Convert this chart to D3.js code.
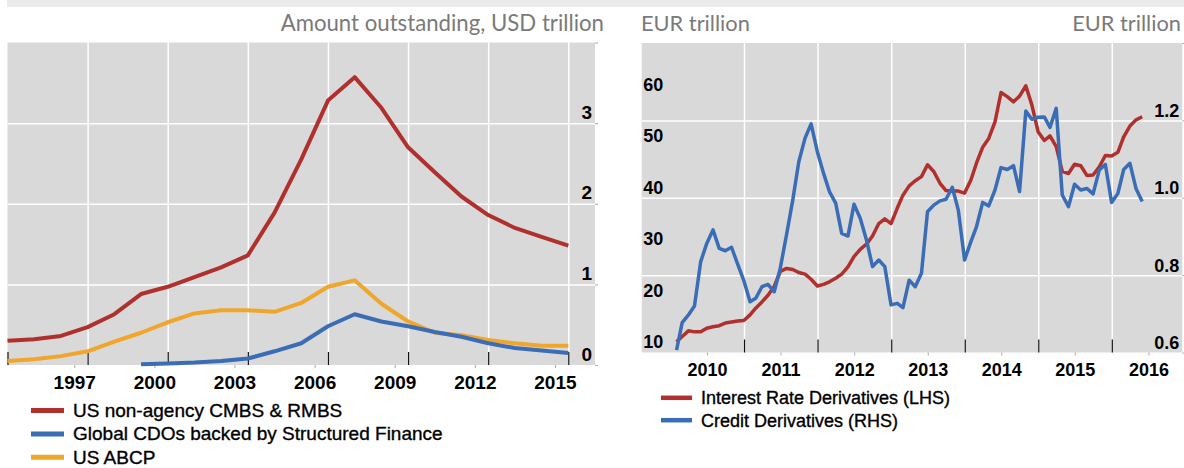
<!DOCTYPE html>
<html>
<head>
<meta charset="utf-8">
<script src="https://cdn.jsdelivr.net/npm/d3@7"></script>
<style>
  body { margin: 0; background: #fff; }
  svg { display: block; }
</style>
</head>
<body>
<svg id="chart" width="1184" height="468"></svg>
<script>
// ---- left panel: structured finance amounts outstanding (USD trillion) ----
const usYears = [1994, 1995, 1996, 1997, 1998, 1999, 2000, 2001, 2002, 2003, 2004,
  2005, 2006, 2007, 2008, 2009, 2010, 2011, 2012, 2013, 2014, 2015];
const cmbsRmbs = [0.30, 0.32, 0.36, 0.47, 0.63, 0.88, 0.97, 1.09, 1.21, 1.36, 1.89,
  2.55, 3.28, 3.57, 3.19, 2.70, 2.39, 2.09, 1.86, 1.70, 1.59, 1.48];
const usAbcp = [0.05, 0.07, 0.11, 0.17, 0.29, 0.40, 0.53, 0.64, 0.68, 0.68, 0.66,
  0.77, 0.97, 1.05, 0.76, 0.54, 0.40, 0.37, 0.31, 0.27, 0.24, 0.24];
const cdoYears = [1999, 2000, 2001, 2002, 2003, 2004, 2005, 2006, 2007, 2008, 2009,
  2010, 2011, 2012, 2013, 2014, 2015];
const globalCdos = [0.01, 0.02, 0.03, 0.05, 0.08, 0.17, 0.27, 0.48, 0.63, 0.54, 0.48,
  0.41, 0.35, 0.27, 0.21, 0.18, 0.15];
const leftYearTicks = [1997, 2000, 2003, 2006, 2009, 2012, 2015];
const leftValueTicks = [0, 1, 2, 3];

// ---- right panel: derivatives (EUR trillion), month-end observations ----
const derivMonths = [
  '2010-01', '2010-02', '2010-03', '2010-04', '2010-05', '2010-06', '2010-07', '2010-08', '2010-09', '2010-10', '2010-11', '2010-12',
  '2011-01', '2011-02', '2011-03', '2011-04', '2011-05', '2011-06', '2011-07', '2011-08', '2011-09', '2011-10', '2011-11', '2011-12',
  '2012-01', '2012-02', '2012-03', '2012-04', '2012-05', '2012-06', '2012-07', '2012-08', '2012-09', '2012-10', '2012-11', '2012-12',
  '2013-01', '2013-02', '2013-03', '2013-04', '2013-05', '2013-06', '2013-07', '2013-08', '2013-09', '2013-10', '2013-11', '2013-12',
  '2014-01', '2014-02', '2014-03', '2014-04', '2014-05', '2014-06', '2014-07', '2014-08', '2014-09', '2014-10', '2014-11', '2014-12',
  '2015-01', '2015-02', '2015-03', '2015-04', '2015-05', '2015-06', '2015-07', '2015-08', '2015-09', '2015-10', '2015-11', '2015-12',
  '2016-01', '2016-02', '2016-03', '2016-04', '2016-05'];
const interestRateLhs = [
  10.0, 11.0, 12.1, 11.9, 11.9, 12.6, 12.9, 13.1, 13.6, 13.8, 14.0, 14.1,
  15.2, 16.5, 17.7, 19.0, 20.7, 23.6, 24.2, 24.0, 23.4, 23.1, 22.1, 20.8,
  21.1, 21.6, 22.3, 23.1, 24.5, 26.5, 27.9, 28.9, 30.5, 32.9, 33.8, 32.9,
  35.9, 38.4, 40.2, 41.2, 42.0, 44.3, 43.0, 40.7, 39.3, 39.2, 39.2, 38.8,
  41.3, 44.6, 47.7, 49.4, 52.6, 58.3, 57.5, 56.5, 57.6, 59.6, 55.9, 50.7,
  49.0, 49.9, 47.8, 43.0, 42.6, 44.4, 44.1, 42.2, 42.3, 43.9, 46.1, 46.0,
  46.7, 49.7, 51.8, 53.0, 53.6];
const creditRhs = [
  0.606, 0.677, 0.697, 0.720, 0.835, 0.882, 0.917, 0.869, 0.863, 0.872, 0.829, 0.786,
  0.731, 0.740, 0.770, 0.776, 0.757, 0.818, 0.904, 0.994, 1.093, 1.154, 1.191, 1.119,
  1.063, 1.016, 0.986, 0.908, 0.901, 0.983, 0.947, 0.891, 0.822, 0.839, 0.822, 0.723,
  0.727, 0.716, 0.787, 0.770, 0.805, 0.964, 0.981, 0.992, 0.996, 1.027, 0.968, 0.839,
  0.886, 0.925, 0.988, 0.979, 1.020, 1.078, 1.073, 1.083, 1.016, 1.224, 1.203, 1.208,
  1.209, 1.182, 1.231, 1.007, 0.977, 1.035, 1.020, 1.024, 1.010, 1.072, 1.086, 0.988,
  1.011, 1.073, 1.089, 1.024, 0.990];
const rightYearLabels = ['2010', '2011', '2012', '2013', '2014', '2015', '2016'];
const lhsTicks = [10, 20, 30, 40, 50, 60];
const rhsTicks = [0.6, 0.8, 1.0, 1.2];

const RED = '#b0302e';
const BLUE = '#3a6db5';
const ORANGE = '#f0a62a';
const PLOT_BG = '#d9d9d9';
const ARIAL = '"Liberation Sans", Arial, sans-serif';
const TITLE_FONT = 'Lato, "Open Sans", sans-serif';

const svg = d3.select('#chart');

// thin grey band along the top
svg.append('rect')
    .attr('x', 7).attr('y', 0)
    .attr('width', 1177).attr('height', 7)
    .attr('fill', '#ebebeb');

/** strips the default axis path and returns the selection */
const bare = (g) => {
  g.select('.domain').remove();
  return g;
};

// ================= LEFT PANEL =================
const L = {left: 7.5, right: 595, top: 42.5, bottom: 365};
const xL = d3.scaleLinear().domain([1994, 2016]).range([L.left, L.right]);
const yL = d3.scaleLinear().domain([0, 4]).range([L.bottom, L.top]);

const left = svg.append('g');
left.append('rect')
    .attr('x', L.left).attr('y', L.top)
    .attr('width', L.right - L.left).attr('height', L.bottom - L.top)
    .attr('fill', PLOT_BG);

// white gridlines
left.append('g')
    .attr('transform', `translate(0,${L.bottom})`)
    .call(d3.axisBottom(xL).tickValues(leftYearTicks)
        .tickSize(-(L.bottom - L.top)).tickFormat(''))
    .call(bare)
    .selectAll('line').attr('stroke', '#fff').attr('stroke-width', 1.5);
left.append('g')
    .attr('transform', `translate(${L.left},0)`)
    .call(d3.axisLeft(yL).tickValues([1, 2, 3])
        .tickSize(-(L.right - L.left)).tickFormat(''))
    .call(bare)
    .selectAll('line').attr('stroke', '#fff').attr('stroke-width', 1.5);

// black inner ticks on the x axis
left.append('g')
    .attr('transform', `translate(0,${L.bottom})`)
    .call(d3.axisBottom(xL).tickValues([1994].concat(leftYearTicks))
        .tickSize(-13).tickFormat(''))
    .call(bare)
    .selectAll('line').attr('stroke', '#111').attr('stroke-width', 1.2);

// small grey outer ticks at the labels and on the right edge
left.append('g')
    .attr('transform', `translate(0,${L.bottom})`)
    .call(d3.axisBottom(xL).tickValues(leftYearTicks.map((d) => d - 0.5))
        .tickSize(3).tickFormat(''))
    .call(bare)
    .selectAll('line').attr('stroke', '#aaa');
left.append('g')
    .attr('transform', `translate(${L.right},0)`)
    .call(d3.axisRight(yL).tickValues([0, 1, 2, 3, 4]).tickSize(3).tickFormat(''))
    .call(bare)
    .selectAll('line').attr('stroke', '#aaa');

// x labels, placed half a year before each gridline
const leftXLabels = left.append('g')
    .attr('transform', `translate(0,${L.bottom})`)
    .call(d3.axisBottom(xL).tickValues(leftYearTicks.map((d) => d - 0.5))
        .tickSize(0).tickFormat((d) => String(d + 0.5)))
    .call(bare);
leftXLabels.selectAll('text')
    .attr('y', 24).attr('dy', null)
    .attr('font-family', ARIAL).attr('font-weight', 'bold')
    .attr('font-size', 19).attr('fill', '#000');

// y labels, inside the plot at the right, sitting on the gridlines
const leftYLabels = left.append('g')
    .attr('transform', `translate(${L.right - 3},0)`)
    .call(d3.axisLeft(yL).tickValues(leftValueTicks).tickSize(0).tickFormat(d3.format('d')))
    .call(bare);
leftYLabels.selectAll('text')
    .attr('x', 0).attr('y', -5).attr('dy', null)
    .attr('text-anchor', 'end')
    .attr('font-family', ARIAL).attr('font-weight', 'bold')
    .attr('font-size', 19).attr('fill', '#000');

const leftLine = d3.line().x((d) => xL(d[0])).y((d) => yL(d[1]));
const leftSeries = [
  {name: 'US ABCP', color: ORANGE, pts: d3.zip(usYears, usAbcp)},
  {name: 'Global CDOs backed by Structured Finance', color: BLUE, pts: d3.zip(cdoYears, globalCdos)},
  {name: 'US non-agency CMBS & RMBS', color: RED, pts: d3.zip(usYears, cmbsRmbs)},
];
left.append('g')
    .selectAll('path')
    .data(leftSeries)
    .join('path')
    .attr('d', (d) => leftLine(d.pts))
    .attr('fill', 'none')
    .attr('stroke', (d) => d.color)
    .attr('stroke-width', 4)
    .attr('stroke-linejoin', 'round');

left.append('text')
    .attr('x', 604).attr('y', 30.5)
    .attr('text-anchor', 'end')
    .attr('font-family', TITLE_FONT).attr('font-size', 22.2)
    .attr('fill', '#7a7a7a')
    .text('Amount outstanding, USD trillion');

// legend
const leftLegendItems = [
  {name: 'US non-agency CMBS & RMBS', color: RED},
  {name: 'Global CDOs backed by Structured Finance', color: BLUE},
  {name: 'US ABCP', color: ORANGE},
];
const leftLegend = left.append('g')
    .selectAll('g')
    .data(leftLegendItems)
    .join('g')
    .attr('transform', (d, i) => `translate(0,${[410.5, 434, 457.3][i]})`);
leftLegend.append('line')
    .attr('x1', 31).attr('x2', 64)
    .attr('stroke', (d) => d.color).attr('stroke-width', 5);
leftLegend.append('text')
    .attr('x', 73).attr('y', 6.3)
    .attr('font-family', ARIAL).attr('font-size', 19).attr('fill', '#000')
    .attr('stroke', '#000').attr('stroke-width', 0.35)
    .text((d) => d.name);

// ================= RIGHT PANEL =================
const R = {left: 641.7, right: 1182.3, top: 43, bottom: 352.5};
const monthEnd = (s) => {
  const [yy, mm] = s.split('-').map(Number);
  return new Date(yy, mm, 0);
};
const xR = d3.scaleTime()
    .domain([new Date(2009, 7, 11), new Date(2016, 11, 16)])
    .range([R.left, R.right]);
const yLhs = d3.scaleLinear().domain([7.9, 67.9]).range([R.bottom, R.top]);
const yRhs = d3.scaleLinear().domain([0.6, 1.4]).range([R.bottom, R.top]);

const right = svg.append('g');
right.append('rect')
    .attr('x', R.left).attr('y', R.top)
    .attr('width', R.right - R.left).attr('height', R.bottom - R.top)
    .attr('fill', PLOT_BG);

const yearStarts = [2011, 2012, 2013, 2014, 2015, 2016].map((y) => new Date(y, 0, 1));
const yearMids = rightYearLabels.map((y) => new Date(+y, 6, 1));

right.append('g')
    .attr('transform', `translate(0,${R.bottom})`)
    .call(d3.axisBottom(xR).tickValues(yearStarts)
        .tickSize(-(R.bottom - R.top)).tickFormat(''))
    .call(bare)
    .selectAll('line').attr('stroke', '#fff').attr('stroke-width', 1.5);
right.append('g')
    .attr('transform', `translate(${R.left},0)`)
    .call(d3.axisLeft(yRhs).tickValues([0.8, 1.0, 1.2])
        .tickSize(-(R.right - R.left)).tickFormat(''))
    .call(bare)
    .selectAll('line').attr('stroke', '#fff').attr('stroke-width', 1.5);

right.append('g')
    .attr('transform', `translate(0,${R.bottom})`)
    .call(d3.axisBottom(xR).tickValues(yearStarts).tickSize(-13).tickFormat(''))
    .call(bare)
    .selectAll('line').attr('stroke', '#111').attr('stroke-width', 1.2);
right.append('g')
    .attr('transform', `translate(0,${R.bottom})`)
    .call(d3.axisBottom(xR).tickValues(yearMids).tickSize(3).tickFormat(''))
    .call(bare)
    .selectAll('line').attr('stroke', '#aaa');
right.append('g')
    .attr('transform', `translate(${R.right},0)`)
    .call(d3.axisRight(yRhs).tickValues([0.6, 0.8, 1.0, 1.2, 1.4]).tickSize(3).tickFormat(''))
    .call(bare)
    .selectAll('line').attr('stroke', '#aaa');

const rightXLabels = right.append('g')
    .attr('transform', `translate(0,${R.bottom})`)
    .call(d3.axisBottom(xR).tickValues(yearMids).tickSize(0)
        .tickFormat((d, i) => rightYearLabels[i]))
    .call(bare);
rightXLabels.selectAll('text')
    .attr('y', 23.5).attr('dy', null)
    .attr('font-family', ARIAL).attr('font-weight', 'bold')
    .attr('font-size', 18).attr('fill', '#000');

const lhsLabels = right.append('g')
    .attr('transform', `translate(${R.left + 1.5},0)`)
    .call(d3.axisRight(yLhs).tickValues(lhsTicks).tickSize(0).tickFormat(d3.format('d')))
    .call(bare);
lhsLabels.selectAll('text')
    .attr('x', 0).attr('dy', '0.35em')
    .attr('font-family', ARIAL).attr('font-weight', 'bold')
    .attr('font-size', 18).attr('fill', '#000');

const rhsLabels = right.append('g')
    .attr('transform', `translate(${R.right - 3},0)`)
    .call(d3.axisLeft(yRhs).tickValues(rhsTicks).tickSize(0).tickFormat(d3.format('.1f')))
    .call(bare);
rhsLabels.selectAll('text')
    .attr('x', 0).attr('y', -4).attr('dy', null)
    .attr('text-anchor', 'end')
    .attr('font-family', ARIAL).attr('font-weight', 'bold')
    .attr('font-size', 18).attr('fill', '#000');

const creditLine = d3.line()
    .x((d) => xR(monthEnd(d[0])))
    .y((d) => yRhs(d[1]));
const irLine = d3.line()
    .x((d) => xR(monthEnd(d[0])))
    .y((d) => yLhs(d[1]));

right.append('path')
    .attr('d', irLine(d3.zip(derivMonths, interestRateLhs)))
    .attr('fill', 'none').attr('stroke', RED)
    .attr('stroke-width', 3.5).attr('stroke-linejoin', 'round');
right.append('path')
    .attr('d', creditLine(d3.zip(derivMonths, creditRhs)))
    .attr('fill', 'none').attr('stroke', BLUE)
    .attr('stroke-width', 3.5).attr('stroke-linejoin', 'round');

right.append('text')
    .attr('x', 641).attr('y', 30.5)
    .attr('font-family', TITLE_FONT).attr('font-size', 21.8)
    .attr('fill', '#7a7a7a')
    .text('EUR trillion');
right.append('text')
    .attr('x', 1181).attr('y', 30.5)
    .attr('text-anchor', 'end')
    .attr('font-family', TITLE_FONT).attr('font-size', 21.8)
    .attr('fill', '#7a7a7a')
    .text('EUR trillion');

const rightLegendItems = [
  {name: 'Interest Rate Derivatives (LHS)', color: RED},
  {name: 'Credit Derivatives (RHS)', color: BLUE},
];
const rightLegend = right.append('g')
    .selectAll('g')
    .data(rightLegendItems)
    .join('g')
    .attr('transform', (d, i) => `translate(0,${[397.8, 420.2][i]})`);
rightLegend.append('line')
    .attr('x1', 661).attr('x2', 692)
    .attr('stroke', (d) => d.color).attr('stroke-width', 4.5);
rightLegend.append('text')
    .attr('x', 701).attr('y', 6.3)
    .attr('font-family', ARIAL).attr('font-size', 18).attr('fill', '#000')
    .attr('stroke', '#000').attr('stroke-width', 0.35)
    .text((d) => d.name);
</script>
</body>
</html>
